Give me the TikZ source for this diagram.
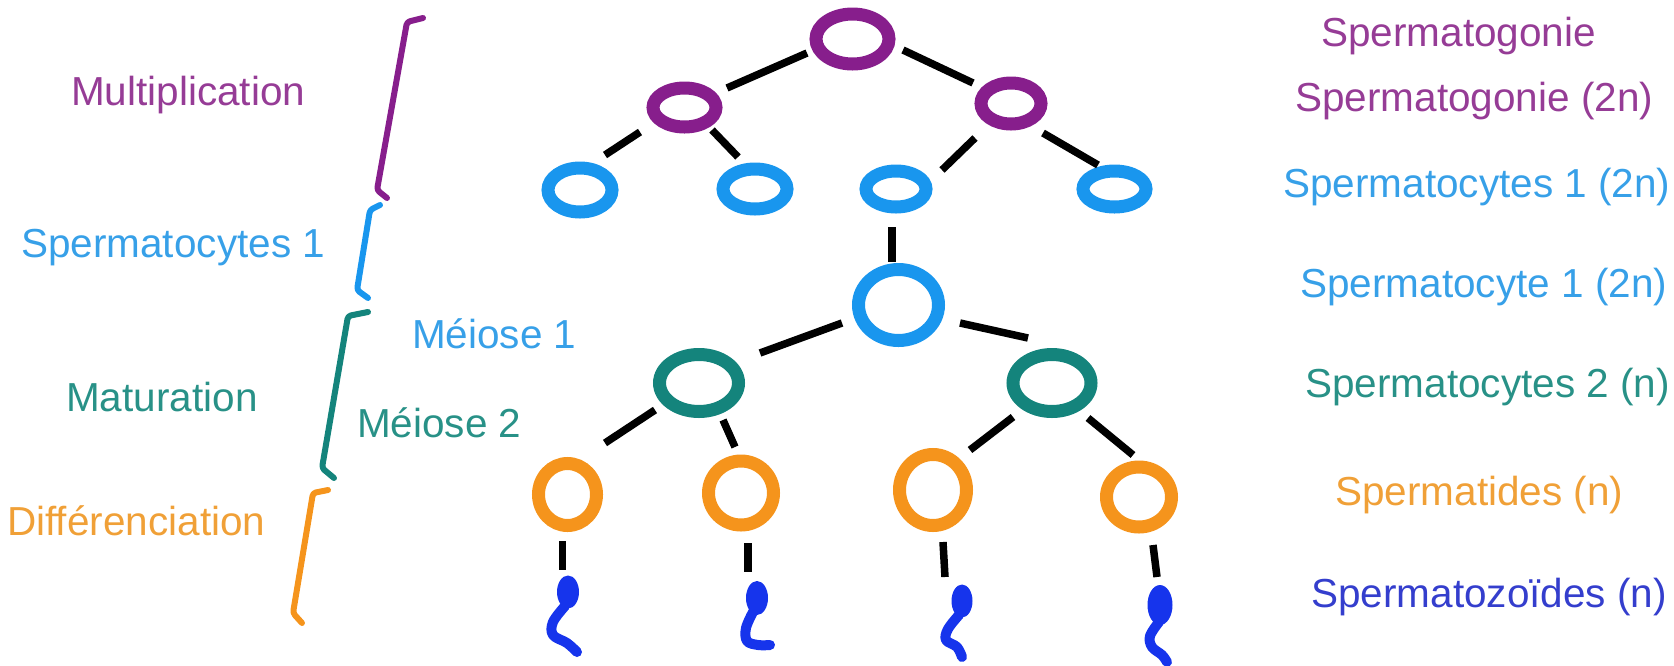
\documentclass[tikz,border=0pt]{standalone}
\usepackage{fontspec}
\setmainfont{Liberation Sans}
\usetikzlibrary{shapes.geometric,calc}

% cell-type colours
\definecolor{gonia}{RGB}{135,30,140}
\definecolor{cyteone}{RGB}{25,150,238}
\definecolor{cytetwo}{RGB}{20,132,124}
\definecolor{tid}{RGB}{245,148,28}
\definecolor{zoid}{RGB}{22,52,236}
% label colours
\definecolor{goniatext}{RGB}{150,60,150}
\definecolor{cyteonetext}{RGB}{55,160,232}
\definecolor{cytetwotext}{RGB}{40,145,135}
\definecolor{tidtext}{RGB}{240,160,55}
\definecolor{zoidtext}{RGB}{52,62,205}

\begin{document}
\begin{tikzpicture}[x=1pt,y=-1pt,
  cell/.style={ellipse, draw, line width=13pt, inner sep=0pt},
  head/.style={ellipse, fill=zoid, inner sep=0pt},
  link/.style={line width=7.5pt, draw=black},
  tail/.style={line width=10pt, draw=zoid, line cap=round, line join=round},
  brace/.style={line width=6pt, line cap=round, line join=round, rounded corners=3pt},
  lab/.style={anchor=base west, inner sep=0pt, font=\fontsize{40.5}{48}\selectfont}]

\useasboundingbox (0,0) rectangle (1674,665);

% ---- spermatogonia ----
\node[cell, draw=gonia, minimum width=73pt, minimum height=50pt] (pg0) at (852.5,39) {};
\node[cell, draw=gonia, minimum width=63pt, minimum height=39pt] (pg1) at (684.5,107.5) {};
\node[cell, draw=gonia, minimum width=60pt, minimum height=41pt] (pg2) at (1011,103.5) {};

% ---- spermatocytes 1 ----
\node[cell, draw=cyteone, minimum width=64pt, minimum height=44pt] (sca) at (580,190) {};
\node[cell, draw=cyteone, minimum width=64pt, minimum height=40pt] (scb) at (755,189) {};
\node[cell, draw=cyteone, minimum width=60pt, minimum height=36pt] (scc) at (896,189) {};
\node[cell, draw=cyteone, minimum width=63pt, minimum height=36pt] (scd) at (1114.5,189) {};
\node[cell, draw=cyteone, minimum width=80pt, minimum height=71pt] (sc1) at (898.5,305) {};

% ---- spermatocytes 2 ----
\node[cell, draw=cytetwo, minimum width=79pt, minimum height=57pt] (s2a) at (699,383) {};
\node[cell, draw=cytetwo, minimum width=78pt, minimum height=57pt] (s2b) at (1052,383) {};

% ---- spermatids ----
\node[cell, draw=tid, minimum width=58pt, minimum height=62pt] (st1) at (567.5,494.5) {};
\node[cell, draw=tid, minimum width=65pt, minimum height=64pt] (st2) at (741,493) {};
\node[cell, draw=tid, minimum width=67pt, minimum height=71pt] (st3) at (933,490) {};
\node[cell, draw=tid, minimum width=65pt, minimum height=60pt] (st4) at (1139,497) {};

% ---- spermatozoa: heads ----
\node[head, minimum width=22pt, minimum height=33pt] (sp1) at (568,592) {};
\node[head, minimum width=22pt, minimum height=34pt] (sp2) at (757,598) {};
\node[head, minimum width=21pt, minimum height=33pt] (sp3) at (962,601) {};
\node[head, minimum width=25pt, minimum height=40pt] (sp4) at (1160,605) {};

% ---- spermatozoa: tails ----
\draw[tail] plot[smooth, tension=0.6] coordinates {(565,606) (553,622) (553,635) (567,643) (577,652)};
\draw[tail] plot[smooth, tension=0.6] coordinates {(753,612) (746,628) (747,641) (758,645) (770,645)};
\draw[tail] plot[smooth, tension=0.6] coordinates {(959,615) (948,629) (946,640) (957,647) (962,657)};
\draw[tail] plot[smooth, tension=0.6] coordinates {(1159,622) (1150,636) (1152,647) (1162,655) (1167,662)};

% ---- lineage connectors ----
\draw[link] ($(pg0)+(-45.5,14)$) -- ($(pg1)+(42.5,-19.5)$);
\draw[link] ($(pg0)+(50.5,11)$) -- ($(pg2)+(-38,-20.5)$);
\draw[link] ($(pg1)+(-44.5,24.5)$) -- ($(sca)+(25,-35)$);
\draw[link] ($(pg1)+(27.5,22.5)$) -- ($(scb)+(-17,-32)$);
\draw[link] ($(pg2)+(-36,34.5)$) -- ($(scc)+(46,-19)$);
\draw[link] ($(pg2)+(32,29.5)$) -- ($(scd)+(-16.5,-24)$);
\draw[link] ($(scc)+(-4,38)$) -- ($(sc1)+(-6.5,-43)$);
\draw[link] ($(sc1)+(-56.5,18)$) -- ($(s2a)+(61,-30)$);
\draw[link] ($(sc1)+(61.5,18)$) -- ($(s2b)+(-24,-45)$);
\draw[link] ($(s2a)+(-44,27)$) -- ($(st1)+(37.5,-51.5)$);
\draw[link] ($(s2a)+(24,37)$) -- ($(st2)+(-6,-46)$);
\draw[link] ($(s2b)+(-39,34)$) -- ($(st3)+(37,-40)$);
\draw[link] ($(s2b)+(36,35)$) -- ($(st4)+(-6,-42)$);
\draw[link] ($(st1)+(-5,46.5)$) -- ($(sp1)+(-5.5,-22)$);
\draw[link] ($(st2)+(7,50)$) -- ($(sp2)+(-9,-26)$);
\draw[link] ($(st3)+(10,52)$) -- ($(sp3)+(-17,-24)$);
\draw[link] ($(st4)+(14,48)$) -- ($(sp4)+(-3,-28)$);

% ---- phase brackets ----
\draw[brace, draw=gonia]   (423,18) -- (407,22) -- (377,190) -- (387,198);
\draw[brace, draw=cyteone] (380,205) -- (370,210) -- (357,290) -- (368,298);
\draw[brace, draw=cytetwo] (368,312) -- (348,316) -- (322,468) -- (334,478);
\draw[brace, draw=tid]     (328,490) -- (313,493) -- (293,613) -- (302,623);

% ---- phase labels ----
\node[lab, text=goniatext]   (lmul) at (71,105)  {Multiplication};
\node[lab, text=cyteonetext] (lsc1) at (21,257)  {Spermatocytes 1};
\node[lab, text=cytetwotext] (lmat) at (66,411)  {Maturation};
\node[lab, text=tidtext]     (ldif) at (7,535)   {Différenciation};
\node[lab, text=cyteonetext] (lm1)  at (412,348) {Méiose 1};
\node[lab, text=cytetwotext] (lm2)  at (357,437) {Méiose 2};

% ---- stage labels ----
\node[lab, text=goniatext]   (r1) at (1321,46)  {Spermatogonie};
\node[lab, text=goniatext]   (r2) at (1295,111) {Spermatogonie (2n)};
\node[lab, text=cyteonetext] (r3) at (1283,197) {Spermatocytes 1 (2n)};
\node[lab, text=cyteonetext] (r4) at (1300,297) {Spermatocyte 1 (2n)};
\node[lab, text=cytetwotext] (r5) at (1305,397) {Spermatocytes 2 (n)};
\node[lab, text=tidtext]     (r6) at (1335,505) {Spermatides (n)};
\node[lab, text=zoidtext]    (r7) at (1311,607) {Spermatozoïdes (n)};
\end{tikzpicture}
\end{document}
